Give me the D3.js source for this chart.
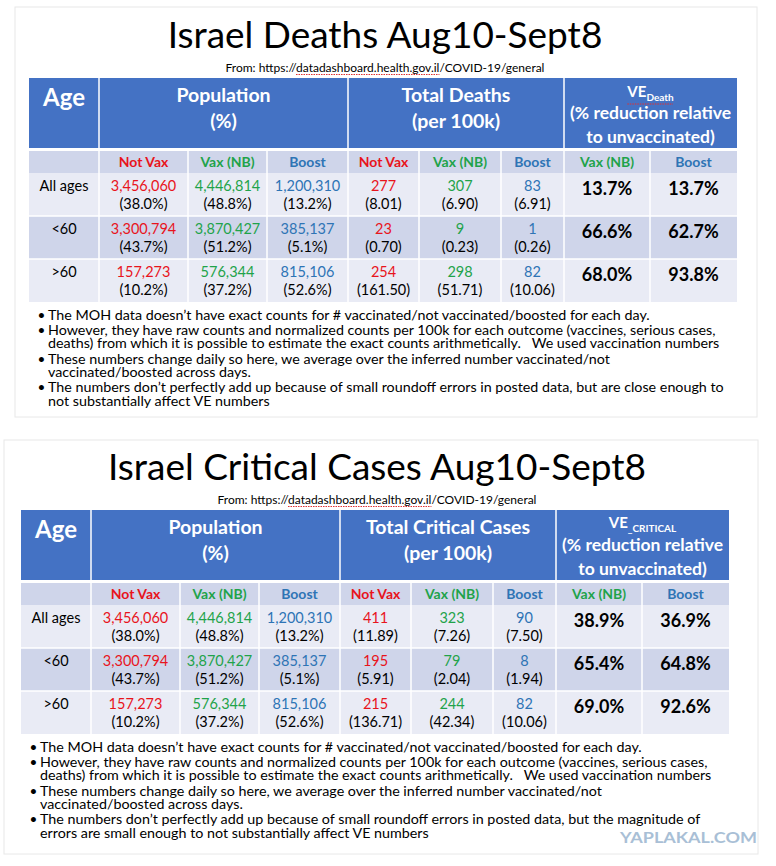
<!DOCTYPE html>
<html>
<head>
<meta charset="utf-8">
<script src="https://cdn.jsdelivr.net/npm/d3@7"></script>
<style>
body { margin: 0; background: #fff; }
text { font-family: Lato, "Open Sans", sans-serif; white-space: pre; }
</style>
</head>
<body>
<svg id="chart"></svg>
<script>
'use strict';

// data
var ageGroups = ['All ages', '<60', '>60'];
var groupLabels = ['Not Vax', 'Vax (NB)', 'Boost'];
var veLabels = ['Vax (NB)', 'Boost'];
var sourceText = 'From: https://datadashboard.health.gov.il/COVID-19/general';

var popCounts = [[3456060, 4446814, 1200310], [3300794, 3870427, 385137], [157273, 576344, 815106]];
var popShares = [[38.0, 48.8, 13.2], [43.7, 51.2, 5.1], [10.2, 37.2, 52.6]];

var deathCounts = [[277, 307, 83], [23, 9, 1], [254, 298, 82]];
var deathRates = [[8.01, 6.90, 6.91], [0.70, 0.23, 0.26], [161.50, 51.71, 10.06]];
var veDeath = [[13.7, 13.7], [66.6, 62.7], [68.0, 93.8]];

var criticalCounts = [[411, 323, 90], [195, 79, 8], [215, 244, 82]];
var criticalRates = [[11.89, 7.26, 7.50], [5.91, 2.04, 1.94], [136.71, 42.34, 10.06]];
var veCritical = [[38.9, 36.9], [65.4, 64.8], [69.0, 92.6]];

var notesDeaths = [
    ['The MOH data doesn\u2019t have exact counts for # vaccinated/not vaccinated/boosted for each day.'],
    ['However, they have raw counts and normalized counts per 100k for each outcome (vaccines, serious cases,',
     'deaths) from which it is possible to estimate the exact counts arithmetically.   We used vaccination numbers'],
    ['These numbers change daily so here, we average over the inferred number vaccinated/not',
     'vaccinated/boosted across days.'],
    ['The numbers don\u2019t perfectly add up because of small roundoff errors in posted data, but are close enough to',
     'not substantially affect VE numbers']
];
var notesCritical = [
    notesDeaths[0], notesDeaths[1], notesDeaths[2],
    ['The numbers don\u2019t perfectly add up because of small roundoff errors in posted data, but the magnitude of',
     'errors are small enough to not substantially affect VE numbers']
];

// look
var width = 776, height = 866;
var groupColors = ['#e8141c', '#1fa34a', '#2e74b5'];
var headBlue = '#4472c4', lightRow = '#e9ebf5', darkRow = '#cfd5ea';

var colKeys = ['age', 'p0', 'p1', 'p2', 'o0', 'o1', 'o2', 'v0', 'v1'];
var colWidths = [70, 89, 79, 81, 71, 82, 63, 86, 87];
var colLefts = [];
colWidths.reduce(function(acc, w){ colLefts.push(acc); return acc + w; }, 0);
var tableWidth = d3.sum(colWidths);

var x = d3.scaleOrdinal().domain(colKeys).range(colLefts);
var w = d3.scaleOrdinal().domain(colKeys).range(colWidths);
var y = d3.scaleBand().domain(ageGroups).range([95, 224]);

var fmtCount = d3.format(','),
    fmtShare = function(v){ return '(' + d3.format('.1f')(v) + '%)'; },
    fmtRate = function(v){ return '(' + d3.format('.2f')(v) + ')'; },
    fmtVE = function(v){ return d3.format('.1f')(v) + '%'; };

function mid(k){ return x(k) + w(k) / 2; }
function spanMid(a, b){ return (x(a) + x(b) + w(b)) / 2; }

var svg = d3.select('#chart').attr('width', width).attr('height', height);
svg.append('rect').attr('width', width).attr('height', height).attr('fill', '#fff');

function drawSlide(o){
    svg.append('rect')
        .attr('x', o.frame[0]).attr('y', o.frame[1])
        .attr('width', o.frame[2]).attr('height', o.frame[3])
        .attr('fill', 'none').attr('stroke', '#e8e8e8').attr('stroke-width', 1);

    var g = svg.append('g').attr('transform', 'translate(' + o.ox + ',' + o.oy + ')');

    // title + source
    g.append('text').text(o.title)
        .attr('x', tableWidth / 2 + 2).attr('y', -30)
        .attr('text-anchor', 'middle').attr('font-size', 37).attr('fill', '#000');
    var src = g.append('text').text(sourceText)
        .attr('x', tableWidth / 2 + 2).attr('y', -6)
        .attr('text-anchor', 'middle').attr('font-size', 12).attr('fill', '#000');
    var s0 = sourceText.indexOf('datadashboard'), s1 = sourceText.indexOf('/COVID');
    var srcNode = src.node();
    var ux0 = srcNode.getStartPositionOfChar(s0).x, ux1 = srcNode.getEndPositionOfChar(s1 - 1).x;
    g.append('line').attr('x1', ux0).attr('x2', ux1).attr('y1', -3.5).attr('y2', -3.5)
        .attr('stroke', '#e03030').attr('stroke-width', 1).attr('stroke-dasharray', '1.5,1');

    // header band
    g.append('rect').attr('x', 0).attr('y', 0).attr('width', tableWidth).attr('height', 70).attr('fill', headBlue);
    [x('p0'), x('o0'), x('v0')].forEach(function(px){
        g.append('line').attr('x1', px).attr('x2', px).attr('y1', 0).attr('y2', 70)
            .attr('stroke', '#fff').attr('stroke-width', 1.5);
    });
    g.append('text').text('Age').attr('x', mid('age')).attr('y', 28)
        .attr('text-anchor', 'middle').attr('font-size', 24).attr('font-weight', 'bold').attr('fill', '#fff');

    var heads = [
        {cx: spanMid('p0', 'p2'), lines: ['Population', '(%)']},
        {cx: spanMid('o0', 'o2'), lines: [o.outcome, '(per 100k)']}
    ];
    heads.forEach(function(h){
        g.selectAll(null).data(h.lines).enter().append('text')
            .text(function(d){ return d; })
            .attr('x', h.cx).attr('y', function(d, i){ return 24 + i * 26; })
            .attr('text-anchor', 'middle').attr('font-size', 19.5).attr('font-weight', 'bold').attr('fill', '#fff');
    });
    var veX = spanMid('v0', 'v1');
    var ve = g.append('text').attr('x', veX).attr('y', o.veY)
        .attr('text-anchor', 'middle').attr('font-weight', 'bold').attr('fill', '#fff');
    ve.append('tspan').text('VE').attr('font-size', 15);
    ve.append('tspan').text(o.veSub).attr('font-size', 10).attr('dy', 4);
    if (o.veUnderline){
        var vb = ve.node().getBBox();
        g.append('line').attr('x1', vb.x + 1).attr('x2', vb.x + vb.width - 1)
            .attr('y1', o.veY + 7).attr('y2', o.veY + 7)
            .attr('stroke', '#e03030').attr('stroke-width', 1).attr('stroke-dasharray', '1.5,1');
    }
    g.selectAll(null).data(['(% reduction relative', 'to unvaccinated)']).enter().append('text')
        .text(function(d){ return d; })
        .attr('x', veX).attr('y', function(d, i){ return 41 + i * 24; })
        .attr('text-anchor', 'middle').attr('font-size', 17.5).attr('font-weight', 'bold').attr('fill', '#fff');

    // sub header row
    g.append('rect').attr('x', 0).attr('y', 73).attr('width', tableWidth).attr('height', 22).attr('fill', darkRow);
    var subs = groupLabels.map(function(l, i){ return {key: 'p' + i, text: l, color: groupColors[i]}; })
        .concat(groupLabels.map(function(l, i){ return {key: 'o' + i, text: l, color: groupColors[i]}; }))
        .concat(veLabels.map(function(l, i){ return {key: 'v' + i, text: l, color: groupColors[i + 1]}; }));
    g.selectAll(null).data(subs).enter().append('text')
        .text(function(d){ return d.text; })
        .attr('x', function(d){ return mid(d.key); }).attr('y', 89)
        .attr('text-anchor', 'middle').attr('font-size', 14).attr('font-weight', 'bold')
        .attr('fill', function(d){ return d.color; });

    // body rows
    g.selectAll(null).data(ageGroups).enter().append('rect')
        .attr('x', 0).attr('y', function(d){ return y(d); })
        .attr('width', tableWidth).attr('height', y.bandwidth())
        .attr('fill', function(d, i){ return i % 2 ? darkRow : lightRow; });
    g.selectAll(null).data(ageGroups.slice(1)).enter().append('line')
        .attr('x1', 0).attr('x2', tableWidth)
        .attr('y1', function(d){ return y(d); }).attr('y2', function(d){ return y(d); })
        .attr('stroke', '#fff').attr('stroke-width', 1.5);
    g.selectAll(null).data(colKeys.slice(1)).enter().append('line')
        .attr('x1', function(d){ return x(d); }).attr('x2', function(d){ return x(d); })
        .attr('y1', 73).attr('y2', 224)
        .attr('stroke', '#fff').attr('stroke-width', 1.5);

    var cells = [];
    ageGroups.forEach(function(age, r){
        var top = y(age);
        cells.push({x: mid('age'), y: top + 18, text: age, color: '#000', size: 14.5});
        groupLabels.forEach(function(l, c){
            cells.push({x: mid('p' + c), y: top + 18, text: fmtCount(popCounts[r][c]), color: groupColors[c], size: 14.5});
            cells.push({x: mid('p' + c), y: top + 36, text: fmtShare(popShares[r][c]), color: '#000', size: 14.5});
            cells.push({x: mid('o' + c), y: top + 18, text: fmtCount(o.counts[r][c]), color: groupColors[c], size: 14.5});
            cells.push({x: mid('o' + c), y: top + 36, text: fmtRate(o.rates[r][c]), color: '#000', size: 14.5});
        });
        veLabels.forEach(function(l, c){
            cells.push({x: mid('v' + c), y: top + 22, text: fmtVE(o.ve[r][c]), color: '#000', size: 18, bold: true});
        });
    });
    g.selectAll(null).data(cells).enter().append('text')
        .text(function(d){ return d.text; })
        .attr('x', function(d){ return d.x; }).attr('y', function(d){ return d.y; })
        .attr('text-anchor', 'middle')
        .attr('font-size', function(d){ return d.size; })
        .attr('font-weight', function(d){ return d.bold ? 'bold' : 'normal'; })
        .attr('fill', function(d){ return d.color; });

    // notes: one paragraph block, bullets in their own column
    var ny = 241.5, lineRows = [], bulletRows = [];
    o.notes.forEach(function(lines){
        bulletRows.push(ny);
        lines.forEach(function(line, i){ lineRows.push({text: line, y: ny + i * 13.5}); });
        ny += lines.length * 13.5 + 1.8;
    });
    g.append('text').attr('font-size', 13.5).attr('fill', '#000')
        .selectAll('tspan').data(bulletRows).enter().append('tspan')
        .text('\u2022').attr('x', 8.5).attr('y', function(d){ return d; });
    g.append('text').attr('font-size', 14.3).attr('fill', '#000')
        .selectAll('tspan').data(lineRows).enter().append('tspan')
        .text(function(d){ return d.text; })
        .attr('x', 19).attr('y', function(d){ return d.y; });
}

drawSlide({
    ox: 29, oy: 78, frame: [15, 7, 742, 410],
    title: 'Israel Deaths Aug10-Sept8', outcome: 'Total Deaths',
    veSub: 'Death', veY: 19, veUnderline: true,
    counts: deathCounts, rates: deathRates, ve: veDeath, notes: notesDeaths
});
drawSlide({
    ox: 21, oy: 510, frame: [4, 440, 754, 414],
    title: 'Israel Critical Cases Aug10-Sept8', outcome: 'Total Critical Cases',
    veSub: '_CRITICAL', veY: 18, veUnderline: false,
    counts: criticalCounts, rates: criticalRates, ve: veCritical, notes: notesCritical
});

svg.append('text').text('YAPLAKAL.COM')
    .attr('x', 620).attr('y', 843)
    .attr('textLength', 137).attr('lengthAdjust', 'spacingAndGlyphs')
    .attr('font-family', '"DejaVu Sans", sans-serif')
    .attr('font-size', 16).attr('font-weight', 'bold').attr('fill', '#a9bfd6');
</script>
</body>
</html>
